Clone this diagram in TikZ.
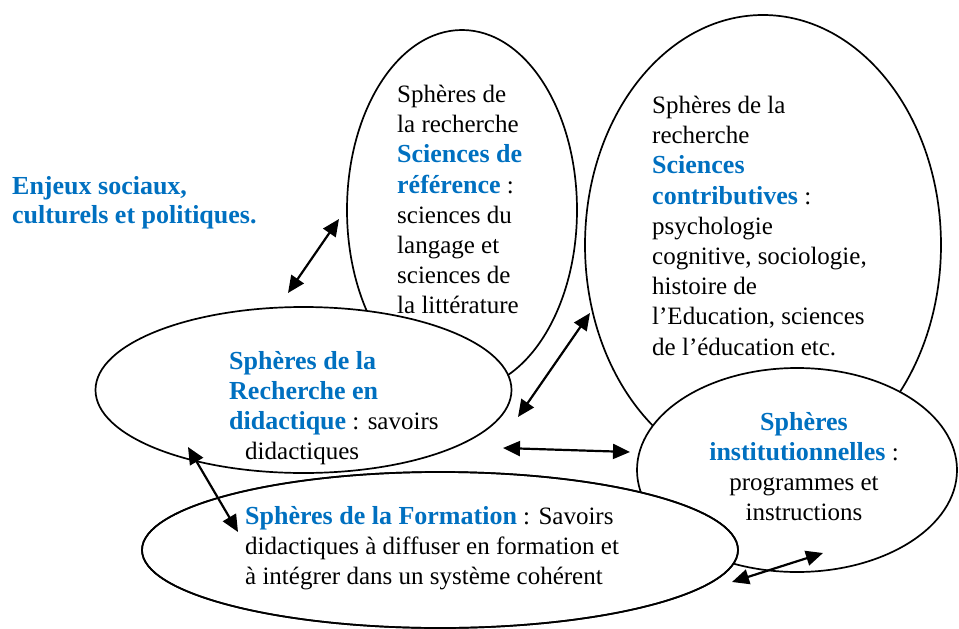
\documentclass[tikz,border=0pt]{standalone}
\usepackage{fontspec}
\setmainfont{Liberation Serif}
\usetikzlibrary{shapes.geometric,arrows.meta}
\definecolor{wordblue}{RGB}{0,112,192}
\newcommand\bluebf[1]{{\fontsize{26}{30.2}\selectfont\textcolor{wordblue}{\textbf{#1}}}}
\begin{document}
\begin{tikzpicture}[x=1pt,y=-1pt,
  sphere/.style={ellipse,draw,line width=1.7pt,inner sep=0pt},
  wsphere/.style={sphere,fill=white},
  txt/.style={inner sep=0pt,font=\fontsize{25}{30.2}\selectfont,align=left,text=black,anchor=north west},
  link/.style={line width=2.2pt,{Triangle[length=17pt,width=15pt]}-{Triangle[length=17pt,width=15pt]}}
]
\useasboundingbox (0,0) rectangle (959,629);

% spheres (drawing order gives the overlaps)
\node[sphere, minimum width=230pt, minimum height=360pt] (ref) at (462,210) {};
\node[sphere, minimum width=356pt, minimum height=460pt] (contrib) at (763,245) {};
\node[wsphere, minimum width=320pt, minimum height=204pt] (inst) at (797,470) {};
\node[wsphere, minimum width=596pt, minimum height=156pt] (form) at (440,550) {};
\node[wsphere, minimum width=416pt, minimum height=166pt] (did) at (303.5,390) {};
\node[sphere, minimum width=596pt, minimum height=156pt] (formline) at (form.center) {};

% texts
\node[txt, font=\fontsize{25}{29}\selectfont] (enjeux) at (12,176)
  {\bluebf{Enjeux sociaux,}\\\bluebf{culturels et politiques.}};
\node[txt] (reftxt) at (397,85)
  {Sphères de\\la recherche\\\bluebf{Sciences de}\\\bluebf{référence} :\\sciences du\\langage et\\sciences de\\la littérature};
\node[txt] (contribtxt) at (652,96)
  {Sphères de la\\recherche\\\bluebf{Sciences}\\\bluebf{contributives} :\\psychologie\\cognitive, sociologie,\\histoire de\\l’Education, sciences\\de l’éducation etc.};
\node[txt] (didtxt) at (229,351)
  {\bluebf{Sphères de la}\\\bluebf{Recherche en}\\\bluebf{didactique} : savoirs\\\hspace*{16pt}didactiques};
\node[txt, align=center, anchor=north] (insttxt) at (804,412)
  {\bluebf{Sphères}\\\bluebf{institutionnelles} :\\programmes et\\instructions};
\node[txt] (formtxt) at (245,506)
  {\bluebf{Sphères de la Formation} : Savoirs\\didactiques à diffuser en formation et\\à intégrer dans un système cohérent};

% arrow end points
\coordinate (a1s) at (288,293); \coordinate (a1e) at (339,219);
\coordinate (a2s) at (518,417); \coordinate (a2e) at (590,313);
\coordinate (a3s) at (503,448); \coordinate (a3e) at (630,452);
\coordinate (a4s) at (188,447); \coordinate (a4e) at (238,532);
\coordinate (a5s) at (732,582); \coordinate (a5e) at (823,553);

\draw[link] (a1s) -- (a1e);
\draw[link] (a2s) -- (a2e);
\draw[link] (a3s) -- (a3e);
\draw[link] (a4s) -- (a4e);
\draw[link] (a5s) -- (a5e);
\end{tikzpicture}
\end{document}
